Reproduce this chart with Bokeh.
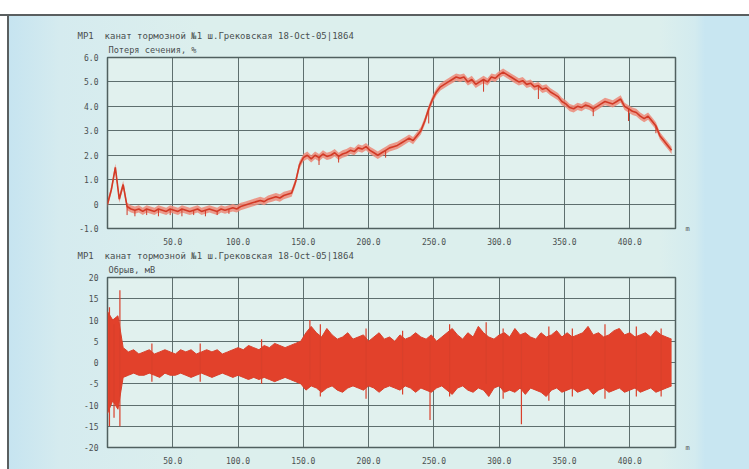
from bokeh.plotting import figure
from bokeh.layouts import column
from bokeh.models import Range1d, FixedTicker, Title, LinearAxis
from bokeh.embed import file_html
from bokeh.resources import INLINE

# ---- data: cross-section loss along the rope (%), every 3 m ----
loss_x = list(range(0, 433, 3))
loss_pct = [
    0.0, 0.6, 1.5, 0.2, 0.8, -0.1, -0.2, -0.25, -0.2, -0.3,
    -0.2, -0.25, -0.3, -0.2, -0.25, -0.3, -0.2, -0.25, -0.3, -0.2,
    -0.25, -0.3, -0.25, -0.2, -0.3, -0.25, -0.2, -0.25, -0.3, -0.2,
    -0.25, -0.2, -0.15, -0.2, -0.1, -0.05, 0.0, 0.05, 0.1, 0.15,
    0.1, 0.2, 0.25, 0.3, 0.25, 0.35, 0.4, 0.45, 0.9, 1.6,
    1.9, 2.0, 1.85, 2.0, 1.9, 2.05, 1.95, 2.0, 2.1, 1.95,
    2.05, 2.1, 2.2, 2.15, 2.3, 2.25, 2.35, 2.2, 2.1, 2.0,
    2.1, 2.2, 2.3, 2.35, 2.4, 2.5, 2.6, 2.7, 2.6, 2.8,
    3.0, 3.4, 3.9, 4.3, 4.6, 4.8, 4.9, 5.0, 5.1, 5.2,
    5.15, 5.2, 5.0, 5.1, 4.9, 5.0, 5.1, 5.0, 5.2, 5.15,
    5.3, 5.4, 5.3, 5.2, 5.1, 5.0, 5.05, 4.9, 4.95, 4.8,
    4.85, 4.7, 4.75, 4.6, 4.5, 4.4, 4.2, 4.1, 3.95, 3.9,
    4.0, 3.95, 4.05, 4.0, 3.9, 4.0, 4.1, 4.2, 4.15, 4.1,
    4.2, 4.3, 4.0, 3.9, 3.8, 3.75, 3.6, 3.5, 3.6, 3.4,
    3.2, 2.8, 2.6, 2.4, 2.2,
]
# short dips in the loss trace: position, bottom of the dip
dip_x = [15, 21, 30, 39, 48, 57, 66, 75, 84, 93, 162, 177, 213, 246, 288, 330, 372, 399, 420]
dip_lo = [-0.45, -0.5, -0.45, -0.5, -0.45, -0.5, -0.45, -0.5, -0.45, -0.4, 1.6, 1.7, 1.9, 3.3, 4.6, 4.3, 3.6, 3.4, 2.9]

# ---- data: local-fault signal envelope (mV), every 4 m ----
lf_x = list(range(0, 433, 4))
lf_upper = [
    12, 10, 11, 3.5, 2.5, 3, 2, 2.5, 3, 2,
    2.5, 3, 2.5, 2, 3, 2.5, 3, 2, 2.5, 3,
    2.5, 3, 2, 2.5, 3, 3.5, 3, 4, 3.5, 3,
    4, 3.5, 4.5, 4, 3.5, 4, 4.5, 5, 7, 8.5,
    7, 6, 8, 6.5, 5.5, 6, 7, 5.5, 6, 6.5,
    5, 6, 7, 5.5, 6, 5, 6.5, 5.5, 6, 7,
    6, 5.5, 6.5, 5, 6, 7, 8, 6.5, 5.5, 7,
    6, 8.5, 7, 6, 5.5, 6.5, 7, 6, 8, 6.5,
    7, 6, 5.5, 7, 6, 6.5, 7.5, 6, 7, 6,
    6.5, 7, 8.5, 6.5, 7, 6, 6.5, 7.5, 8, 6.5,
    7, 6, 6.5, 7, 6, 7.5, 6.5, 6, 5.5,
]
lf_lower = [
    -12, -9, -11, -3.5, -3, -2.5, -3, -3, -2.5, -3,
    -3.5, -2.5, -3, -3, -2.5, -3, -3.5, -3, -2.5, -3,
    -3.5, -3, -2.5, -3, -3.5, -3, -3.5, -4, -3.5, -4,
    -3.5, -4, -4.5, -4, -3.5, -4, -4.5, -5, -6.5, -5.5,
    -6, -7, -6, -5.5, -6.5, -7, -6, -5.5, -6, -6.5,
    -5.5, -6, -7, -6, -5.5, -6, -6.5, -5.5, -6, -7,
    -6, -6.5, -7, -6, -5.5, -6.5, -7.5, -6, -5.5, -6.5,
    -7, -6, -6.5, -8, -6, -5.5, -7, -6.5, -7, -6,
    -7.5, -6, -6.5, -7, -8, -6.5, -6, -7, -6.5, -6,
    -7, -6.5, -6, -7.5, -6.5, -6, -7, -6.5, -6, -7,
    -6.5, -6, -7, -6.5, -6, -7, -6.5, -6, -5.5,
]
# isolated peaks of the signal
peak_x = [1.5, 5, 9.5, 34, 71, 118, 155, 163, 198, 226, 247, 262,
          290, 303, 317, 338, 356, 381, 405, 424]
peak_lo = [-15, -13, -15, -4.5, -4.5, -5, -4, -8, -8.5, -7.5, -13.5, -8,
           -5, -8.5, -14.5, -9, -8, -8.5, -8, -8]
peak_hi = [13, 9, 17, 4.5, 4.5, 5.5, 10, 9, 8, 7.5, 5, 9,
           9.5, 8, 6, 8.5, 8, 9, 8.5, 8]

x_ticks = [50, 100, 150, 200, 250, 300, 350, 400]
x_tick_labels = ["50.0", "100.0", "150.0", "200.0", "250.0", "300.0", "350.0", "400.0"]
loss_ticks = [-1, 0, 1, 2, 3, 4, 5, 6]
loss_tick_labels = ["-1.0", "0", "1.0", "2.0", "3.0", "4.0", "5.0", "6.0"]
lf_ticks = [-20, -15, -10, -5, 0, 5, 10, 15, 20]
lf_tick_labels = ["-20", "-15", "-10", "-5", "0", "5", "10", "15", "20"]

header = "МР1\u00a0\u00a0канат тормозной №1 ш.Грековская 18-Oct-05|1864"
loss_title = "Потеря сечения, %"
lf_title = "Обрыв, мВ"
unit = "m"

FONT = "DejaVu Sans Mono"
TXT = "#4a4f50"
GRID = "#50605f"
RED = "#e2412b"


def panel(height, top, bottom, yr, yticks, ylabels, subtitle):
    p = figure(width=749, height=height, output_backend="svg", toolbar_location=None,
               x_range=Range1d(0, 435), y_range=Range1d(*yr),
               min_border_left=107, min_border_right=74,
               min_border_top=top, min_border_bottom=bottom)
    p.background_fill_color = "#e1f1ee"
    p.border_fill_alpha = 0
    p.outline_line_color = GRID
    p.outline_line_width = 1.5

    # header line (outer) and quantity name (next to the frame)
    p.title.text = header
    p.title.align = "left"
    p.title.offset = -30
    p.title.standoff = 0
    p.title.text_font = FONT
    p.title.text_font_size = "9px"
    p.title.text_font_style = "normal"
    p.title.text_color = TXT
    p.add_layout(Title(text=subtitle, align="left", offset=1, standoff=5,
                       text_font=FONT, text_font_size="8.6px",
                       text_font_style="normal", text_color=TXT), "above")

    for ax in (p.xaxis[0], p.yaxis[0]):
        ax.axis_line_color = None
        ax.major_tick_line_color = None
        ax.minor_tick_line_color = None
        ax.major_label_text_font = FONT
        ax.major_label_text_font_size = "8px"
        ax.major_label_text_color = TXT
        ax.major_label_standoff = 3
    p.xaxis.ticker = FixedTicker(ticks=x_ticks)
    p.xaxis.major_label_overrides = dict(zip(x_ticks, x_tick_labels))
    p.yaxis.ticker = FixedTicker(ticks=yticks)
    p.yaxis.major_label_overrides = dict(zip(yticks, ylabels))

    # distance unit marker at the right end of the x axis
    ux = LinearAxis(ticker=FixedTicker(ticks=[yr[0]]),
                    major_label_overrides={yr[0]: unit},
                    axis_line_color=None, major_tick_line_color=None,
                    minor_tick_line_color=None, major_label_standoff=4,
                    major_label_text_font=FONT, major_label_text_font_size="7px",
                    major_label_text_color=TXT)
    p.add_layout(ux, "right")

    p.grid.grid_line_color = GRID
    p.grid.grid_line_width = 1
    p.grid.grid_line_alpha = 0.9
    return p


top = panel(247, 57, 19, (-1, 6), loss_ticks, loss_tick_labels, loss_title)
halo_lo = [v - 0.15 for v in loss_pct]
halo_hi = [v + 0.15 for v in loss_pct]
top.varea(x=loss_x, y1=halo_lo, y2=halo_hi, fill_color="#ec8a78", fill_alpha=0.85)
dip_top = [loss_pct[loss_x.index(d)] for d in dip_x]
top.segment(x0=dip_x, y0=dip_lo, x1=dip_x, y1=dip_top, line_color="#d23a26", line_width=1)
top.line(loss_x, loss_pct, line_color="#d23a26", line_width=1.6)

bot = panel(222, 30, 22, (-20, 20), lf_ticks, lf_tick_labels, lf_title)
bot.varea(x=lf_x, y1=lf_lower, y2=lf_upper, fill_color=RED)
bot.line(lf_x, lf_upper, line_color="#d9402b", line_width=1)
bot.line(lf_x, lf_lower, line_color="#d9402b", line_width=1)
bot.segment(x0=peak_x, y0=peak_lo, x1=peak_x, y1=peak_hi, line_color="#d9402b", line_width=1.2)

page = column(top, bot, spacing=0, styles={
    "background": ("linear-gradient(to bottom, #ffffff 0px, #ffffff 14px, #5a5f60 14px, "
                   "#5a5f60 16px, transparent 16px), "
                   "linear-gradient(to right, #ffffff 0px, #ffffff 7px, #5a5f60 7px, #5a5f60 9px, "
                   "#c6e4f0 9px, #d5ebef 60px, #dcefed 200px, #dcefed 660px, "
                   "#d3ebef 695px, #c8e6f1 705px, #c8e6f1 749px)"),
})

open("out.html", "w").write(file_html(page, INLINE))
